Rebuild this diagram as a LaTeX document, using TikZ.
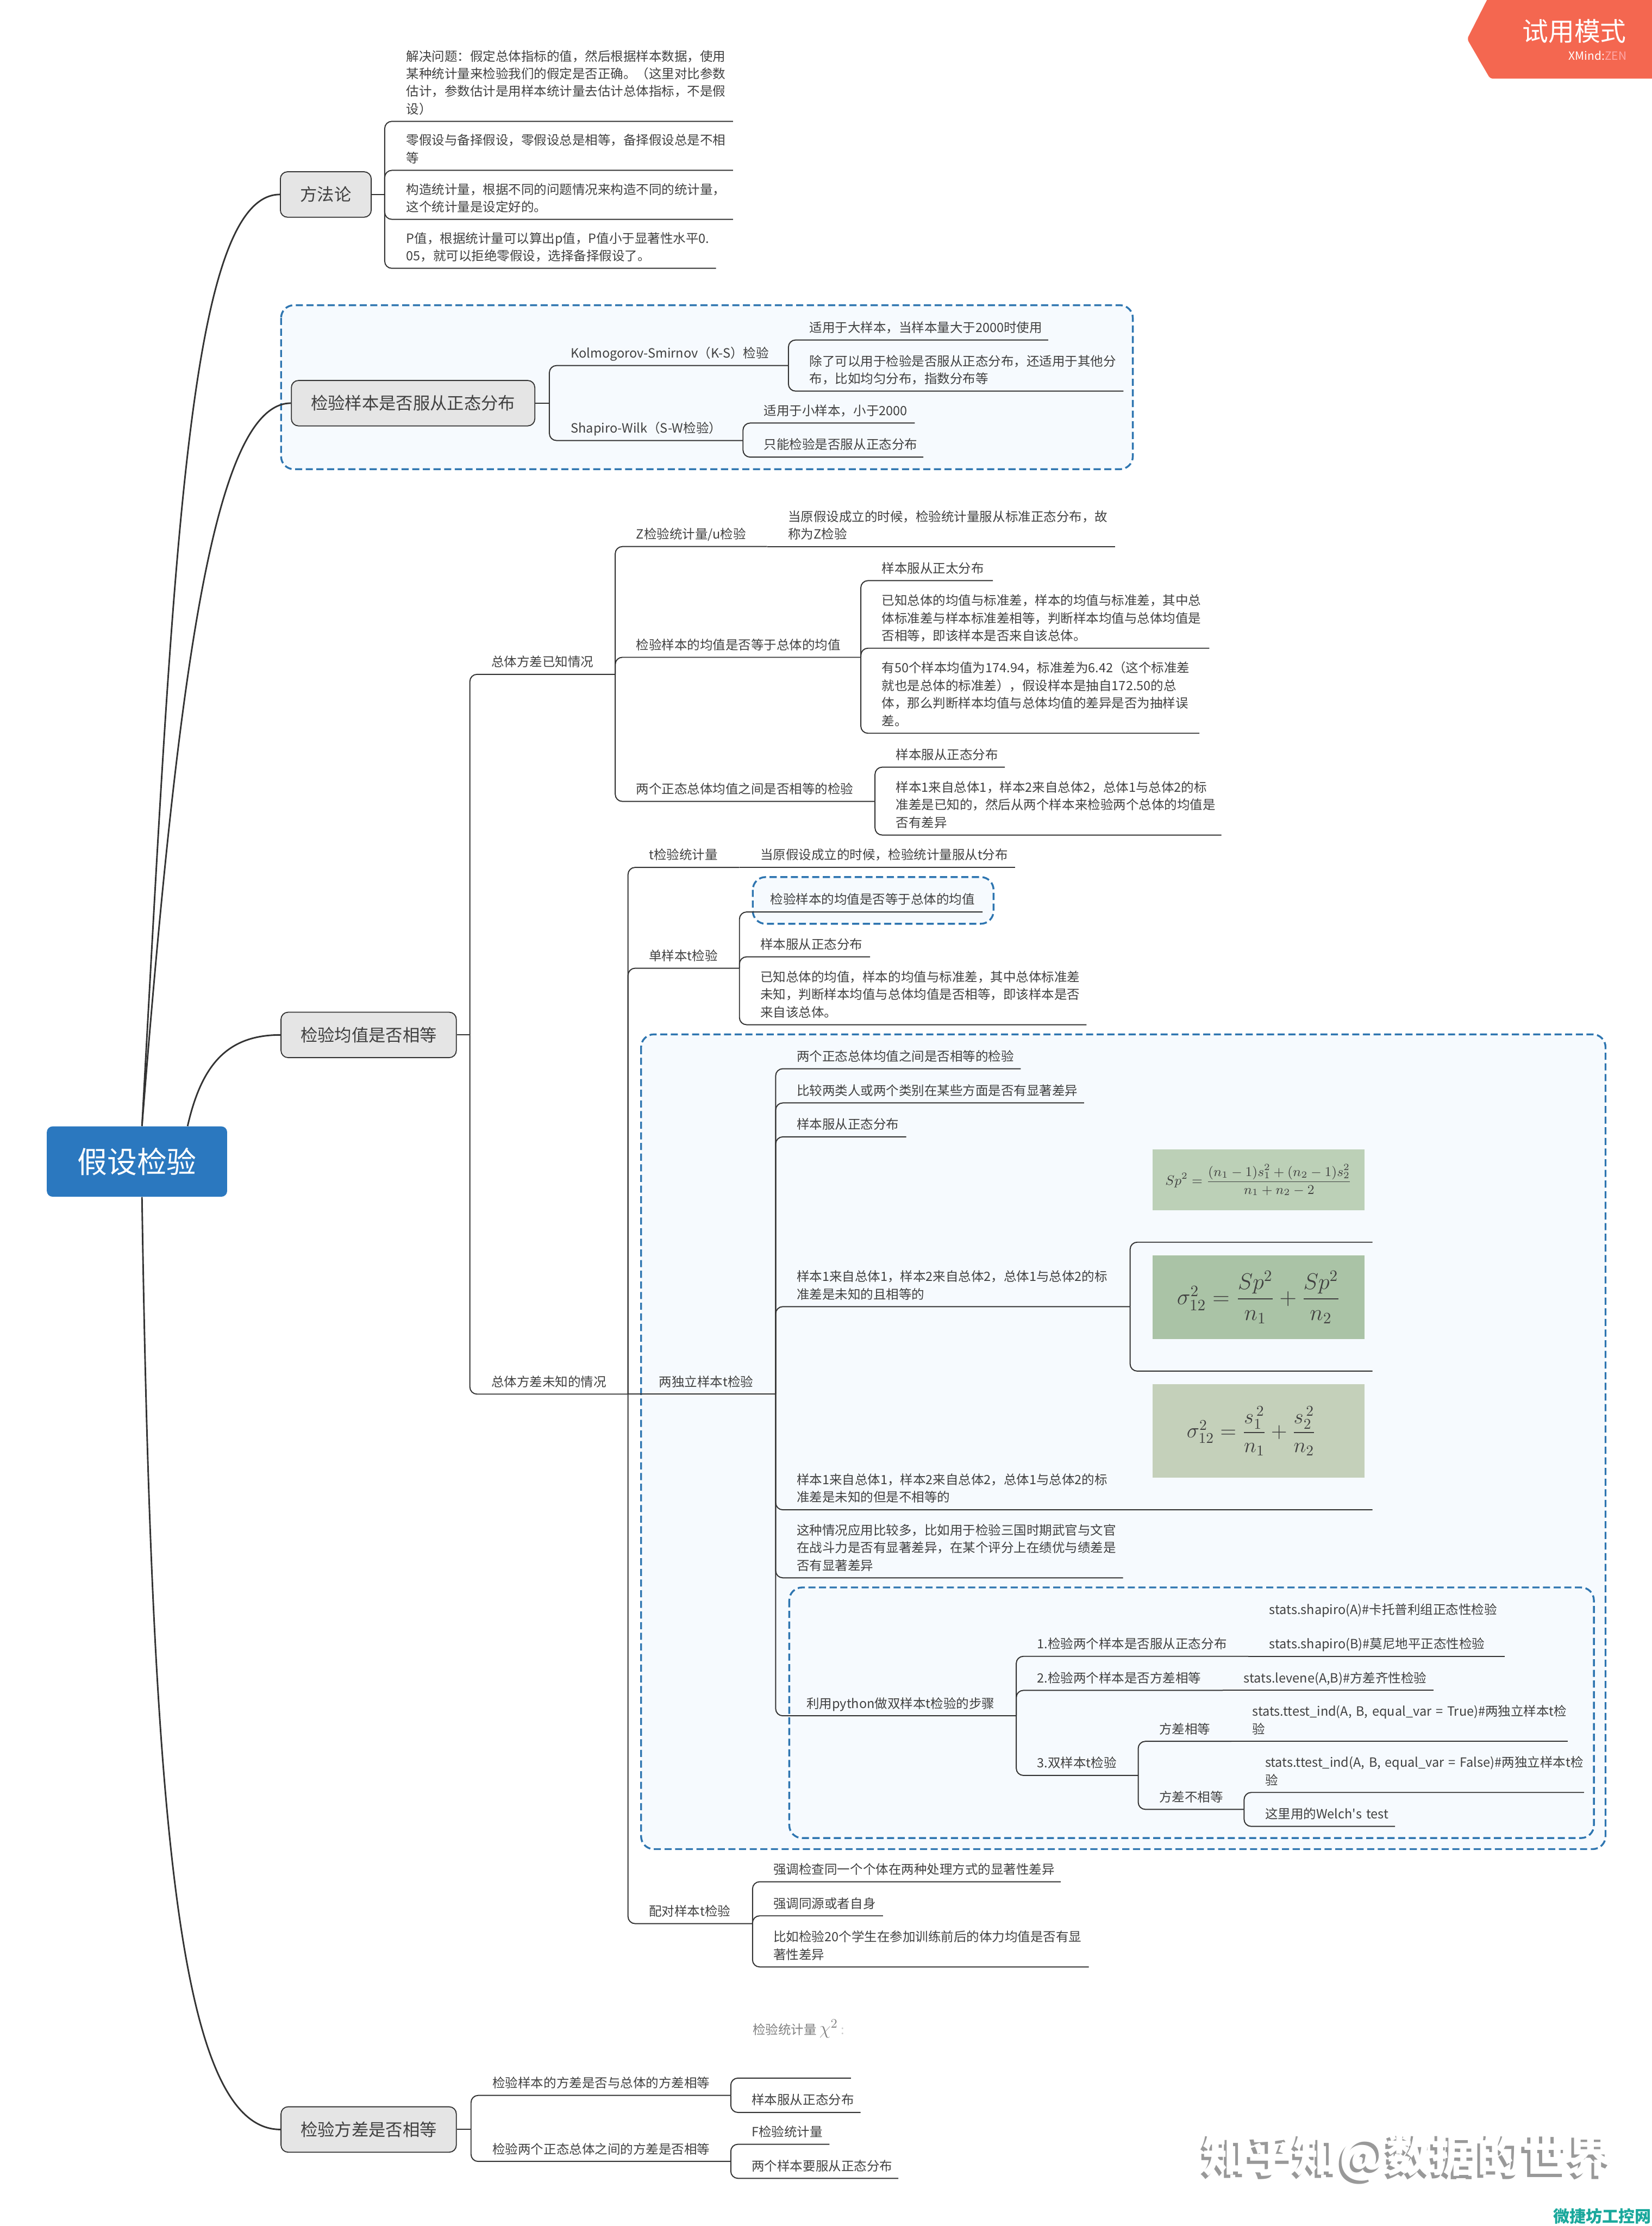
\documentclass[tikz,border=0pt]{standalone}
\usepackage{fix-cm}
\usepackage{amsmath}
\usepackage{fontspec}
\setmainfont{Noto Sans CJK SC}
\newfontfamily\rawfont{Noto Sans CJK SC}
\hyphenpenalty=10000
\exhyphenpenalty=10000

\definecolor{inkgray}{HTML}{404040}
\definecolor{linegray}{HTML}{333333}
\definecolor{rootblue}{HTML}{2B78BF}
\definecolor{boxblue}{HTML}{2E75B0}
\definecolor{paleblue}{HTML}{F6FAFE}

\tikzset{
  topic/.style={anchor=south west, align=left, inner xsep=15pt, inner ysep=1.5pt,
    text width=#1-30pt, text=inkgray, font=\fontsize{9}{12.4}\selectfont,
    execute at end node=\strut},
  widetopic/.style={topic=#1, inner xsep=22pt, text width=#1-44pt},
  rootnode/.style={fill=rootblue, text=white, rounded corners=4pt, minimum width=127pt,
    minimum height=49.5pt, font=\fontsize{21}{25}\selectfont},
  mainnode/.style={draw=linegray, line width=.7pt, fill=black!10, rounded corners=5pt,
    text=inkgray, minimum width=#1, minimum height=32pt, font=\fontsize{12}{14}\selectfont},
  rootlink/.style={draw=linegray, line width=1.1pt},
  link/.style={draw=linegray, line width=.75pt, rounded corners=5pt},
  groupbox/.style={draw=boxblue, fill=paleblue, line width=1.3pt, dash pattern=on 5pt off 2.5pt,
    rounded corners=9pt},
  formula/.style={anchor=north west, minimum width=149.4pt, inner sep=0pt, text=black!75}
}

\newcommand{\branch}[2]{\draw[link] (#1.south east) |- (#2.south east)}
\newcommand{\chain}[2]{\draw[link] (#1.south east) -- (#2.south east)}
\newcommand{\trunk}[2]{\draw[link] (#1.east) -- (#1.east -| #2.south west);
  \draw[link] (#1.east -| #2.south west) |- (#2.south east)}

\begin{document}
\begin{tikzpicture}[x=1pt,y=-1pt]
  \useasboundingbox (0,0) rectangle (1163.4,1568);

  % Dashed groups
  \draw[groupbox] (198,215) rectangle (798,330.5);
  \draw[groupbox] (530.3,617.8) rectangle (699.9,650.7);
  \draw[groupbox] (451.6,728.6) rectangle (1131,1302.5);
  \draw[groupbox] (556,1118.2) rectangle (1122.8,1294.7);

  % Define nodes
  \node[rootnode] (root) at (96.5,818.2) {假设检验};
  \node[mainnode=64pt] (method) at (229.5,137) {方法论};
  \node[mainnode=171.5pt] (normal) at (291,284) {检验样本是否服从正态分布};
  \node[mainnode=123.5pt] (mean) at (259.7,729) {检验均值是否相等};
  \node[mainnode=123.5pt] (var) at (259.7,1500) {检验方差是否相等};

  \node[topic=245] (m1) at (271,85.5) {解决问题：假定总体指标的值，然后根据样本数据，使用\\某种统计量来检验我们的假定是否正确。（这里对比参数\\估计，参数估计是用样本统计量去估计总体指标，不是假\\设）};
  \node[topic=245] (m2) at (271,120) {零假设与备择假设，零假设总是相等，备择假设总是不相\\等};
  \node[topic=245] (m3) at (271,154.5) {构造统计量，根据不同的问题情况来构造不同的统计量，\\这个统计量是设定好的。};
  \node[topic=233] (m4) at (271,189) {P值，根据统计量可以算出p值，P值小于显著性水平0.\\05，就可以拒绝零假设，选择备择假设了。};

  \node[topic=168] (k1) at (387,257.5) {Kolmogorov-Smirnov（K-S）检验};
  \node[topic=136] (k2) at (387,310.3) {Shapiro-Wilk（S-W检验）};
  \node[topic=183] (k11) at (555,239.5) {适用于大样本，当样本量大于2000时使用};
  \node[topic=236] (k12) at (555,275.5) {除了可以用于检验是否服从正态分布，还适用于其他分\\布，比如均匀分布，指数分布等};
  \node[topic=121] (k21) at (523,298) {适用于小样本，小于2000};
  \node[topic=127] (k22) at (523,322) {只能检验是否服从正态分布};

  \node[topic=102] (a1) at (331,475) {总体方差已知情况};
  \node[topic=111] (a2) at (331,982) {总体方差未知的情况};

  \node[topic=107] (b1) at (433,385) {Z检验统计量/u检验};
  \node[topic=245] (b11) at (540,385) {当原假设成立的时候，检验统计量服从标准正态分布，故\\称为Z检验};
  \node[topic=173] (b2) at (433,463) {检验样本的均值是否等于总体的均值};
  \node[topic=93] (b21) at (606,409) {样本服从正太分布};
  \node[topic=245.5] (b22) at (606,456.6) {已知总体的均值与标准差，样本的均值与标准差，其中总\\体标准差与样本标准差相等，判断样本均值与总体均值是\\否相等，即该样本是否来自该总体。};
  \node[topic=238.5] (b23) at (606,516.5) {有50个样本均值为174.94，标准差为6.42（这个标准差\\就也是总体的标准差），假设样本是抽自172.50的总\\体，那么判断样本均值与总体均值的差异是否为抽样误\\差。};
  \node[topic=183] (b3) at (433,564.5) {两个正态总体均值之间是否相等的检验};
  \node[topic=91.5] (b31) at (616,540.4) {样本服从正态分布};
  \node[topic=244] (b32) at (616,588.2) {样本1来自总体1，样本2来自总体2，总体1与总体2的标\\准差是已知的，然后从两个样本来检验两个总体的均值是\\否有差异};

  \node[topic=78.5] (c1) at (442,611) {t检验统计量};
  \node[topic=194] (c11) at (520.5,611) {当原假设成立的时候，检验统计量服从t分布};
  \node[topic=78.5] (c2) at (442,682) {单样本t检验};
  \node[widetopic=171.3] (c21) at (520.5,642.4) {检验样本的均值是否等于总体的均值};
  \node[topic=92] (c22) at (520.5,674) {样本服从正态分布};
  \node[topic=244.5] (c23) at (520.5,721.8) {已知总体的均值，样本的均值与标准差，其中总体标准差\\未知，判断样本均值与总体均值是否相等，即该样本是否\\来自该总体。};

  \node[widetopic=104] (c3) at (442,982) {两独立样本t检验};
  \node[topic=172.7] (d1) at (546,752.8) {两个正态总体均值之间是否相等的检验};
  \node[topic=217.3] (d2) at (546,776.9) {比较两类人或两个类别在某些方面是否有显著差异};
  \node[topic=92] (d3) at (546,800.8) {样本服从正态分布};
  \node[topic=249.7] (d4) at (546,920.4) {样本1来自总体1，样本2来自总体2，总体1与总体2的标\\准差是未知的且相等的};
  \node[topic=170.7] (d41) at (795.7,875) {};
  \node[topic=170.7] (d42) at (795.7,965.8) {};
  \node[topic=420.4] (d5) at (546,1063.5) {样本1来自总体1，样本2来自总体2，总体1与总体2的标\\准差是未知的但是不相等的};
  \node[topic=244.7] (d6) at (546,1111.4) {这种情况应用比较多，比如用于检验三国时期武官与文官\\在战斗力是否有显著差异，在某个评分上在绩优与绩差是\\否有显著差异};
  \node[widetopic=169.5] (d7) at (546,1208.6) {利用python做双样本t检验的步骤};

  \node[formula, fill={rgb,255:red,188;green,208;blue,183}, minimum height=42.7pt, font=\fontsize{9.5}{11}\selectfont] (sp) at (811.6,809.6) {$Sp^2=\dfrac{(n_1-1)s_1^2+(n_2-1)s_2^2}{n_1+n_2-2}$};
  \node[formula, fill={rgb,255:red,170;green,195;blue,166}, minimum height=59pt, font=\fontsize{16}{19}\selectfont] (eq) at (811.6,884) {$\sigma_{12}^2=\dfrac{Sp^2}{n_1}+\dfrac{Sp^2}{n_2}$};
  \node[formula, fill={rgb,255:red,196;green,208;blue,186}, minimum height=66pt, font=\fontsize{15}{18}\selectfont] (ne) at (811.6,974.8) {$\sigma_{12}^2=\dfrac{s_1^{\,2}}{n_1}+\dfrac{s_2^{\,2}}{n_2}$\hspace*{10pt}};

  \node[topic=180] (e0) at (879,1142.6) {stats.shapiro(A)\#卡托普利组正态性检验};
  \node[topic=163.5] (e1) at (715.5,1166.7) {1.检验两个样本是否服从正态分布};
  \node[topic=180.7] (e11) at (879,1166.7) {stats.shapiro(B)\#莫尼地平正态性检验};
  \node[topic=145.5] (e2) at (715.5,1190.7) {2.检验两个样本是否方差相等};
  \node[topic=148.6] (e21) at (861,1190.7) {stats.levene(A,B)\#方差齐性检验};
  \node[topic=85.9] (e3) at (715.5,1250.6) {3.双样本t检验};
  \node[topic=65.6] (e31) at (801.4,1226.6) {方差相等};
  \node[topic=237] (e311) at (867,1226.6) {stats.ttest\_ind(A,~B,~equal\_var~=~True)\#两独立样本t检\\验};
  \node[topic=74.6] (e32) at (801.4,1274.5) {方差不相等};
  \node[topic=239.4] (e321) at (876,1262.6) {stats.ttest\_ind(A,~B,~equal\_var~=~False)\#两独立样本t检\\验};
  \node[topic=106.3] (e322) at (876,1286.5) {这里用的Welch{\rawfont'}s~test};

  \node[topic=87.7] (c4) at (442,1355) {配对样本t检验};
  \node[topic=217.1] (f1) at (529.7,1325.5) {强调检查同一个个体在两种处理方式的显著性差异};
  \node[topic=91.9] (f2) at (529.7,1349.5) {强调同源或者自身};
  \node[topic=236.9] (f3) at (529.7,1385.5) {比如检验20个学生在参加训练前后的体力均值是否有显\\著性差异};

  \node[anchor=west, inner sep=0pt, text=black!50, font=\fontsize{9}{12}\selectfont] (chi) at (530,1429) {检验统计量 {\fontsize{13}{14}\selectfont$\chi^2$} {\color{black!20}:}};

  \node[topic=182.6] (g1) at (331.8,1476) {检验样本的方差是否与总体的方差相等};
  \node[topic=182.6] (g2) at (331.8,1522.5) {检验两个正态总体之间的方差是否相等};
  \node[topic=84.6] (g11) at (514.4,1463.8) {};
  \node[topic=91.4] (g12) at (514.4,1488) {样本服从正态分布};
  \node[topic=69.5] (g21) at (514.4,1510.4) {F检验统计量};
  \node[topic=118] (g22) at (514.4,1534.4) {两个样本要服从正态分布};

  % Marks on the page
  \fill[fill={rgb,255:red,244;green,103;blue,80}, rounded corners=2pt] (1049,-3) -- (1033.5,27.5) -- (1049.7,55.4) -- (1166,55.4) -- (1166,-3) -- cycle;
  \node[text=white, inner sep=0pt, font=\fontsize{18.3}{20}\selectfont] (trial) at (1109,22) {试用模式};
  \node[anchor=east, text=white, inner sep=0pt, font=\fontsize{8}{9}\selectfont] (brand) at (1146,39) {XMind:{\color{white!65!red}ZEN}};
  \node[text=black!40, inner sep=0pt, font=\fontsize{32}{36}\bfseries\selectfont] (markb) at (990,1521.5) {知乎知@数据的世界};
  \node[text=white, inner sep=0pt, font=\fontsize{32}{36}\bfseries\selectfont] (marka) at (992,1519.5) {知乎知@数据的世界};
  \node[anchor=south east, inner sep=0pt, text={rgb,255:red,26;green,168;blue,156}, font=\fontsize{11.5}{13}\bfseries\selectfont] (site) at (1163.4,1567) {微捷坊工控网};

  % Connect the nodes
  \draw[rootlink] (root.82) .. controls (122,400) and (132,137) .. (method.west);
  \draw[rootlink] (root.82) .. controls (125,480) and (150,284) .. (normal.west);
  \draw[rootlink] (root.35) .. controls (142,750) and (160,729) .. (mean.west);
  \draw[rootlink] (root.-82) .. controls (107,1300) and (128,1500) .. (var.west);

  \trunk {method} {m1} ; %
  \trunk {method} {m2} ; %
  \trunk {method} {m3} ; %
  \trunk {method} {m4} ; %

  \trunk {normal} {k1} ; %
  \trunk {normal} {k2} ; %
  \branch {k1} {k11} ; %
  \branch {k1} {k12} ; %
  \branch {k2} {k21} ; %
  \branch {k2} {k22} ; %

  \trunk {mean} {a1} ; %
  \trunk {mean} {a2} ; %
  \branch {a1} {b1} ; %
  \branch {a1} {b2} ; %
  \branch {a1} {b3} ; %
  \chain {b1} {b11} ; %
  \branch {b2} {b21} ; %
  \branch {b2} {b22} ; %
  \branch {b2} {b23} ; %
  \branch {b3} {b31} ; %
  \branch {b3} {b32} ; %

  \branch {a2} {c1} ; %
  \branch {a2} {c2} ; %
  \chain {a2} {c3} ; %
  \branch {a2} {c4} ; %
  \chain {c1} {c11} ; %
  \branch {c2} {c21} ; %
  \branch {c2} {c22} ; %
  \branch {c2} {c23} ; %
  \branch {c3} {d1} ; %
  \branch {c3} {d2} ; %
  \branch {c3} {d3} ; %
  \branch {c3} {d4} ; %
  \branch {c3} {d5} ; %
  \branch {c3} {d6} ; %
  \branch {c3} {d7} ; %
  \branch {d4} {d41} ; %
  \branch {d4} {d42} ; %
  \branch {d7} {e1} ; %
  \branch {d7} {e2} ; %
  \branch {d7} {e3} ; %
  \chain {e1} {e11} ; %
  \chain {e2} {e21} ; %
  \branch {e3} {e31} ; %
  \branch {e3} {e32} ; %
  \chain {e31} {e311} ; %
  \branch {e32} {e321} ; %
  \branch {e32} {e322} ; %
  \branch {c4} {f1} ; %
  \branch {c4} {f2} ; %
  \branch {c4} {f3} ; %

  \trunk {var} {g1} ; %
  \trunk {var} {g2} ; %
  \branch {g1} {g11} ; %
  \branch {g1} {g12} ; %
  \branch {g2} {g21} ; %
  \branch {g2} {g22} ; %
\end{tikzpicture}
\end{document}
